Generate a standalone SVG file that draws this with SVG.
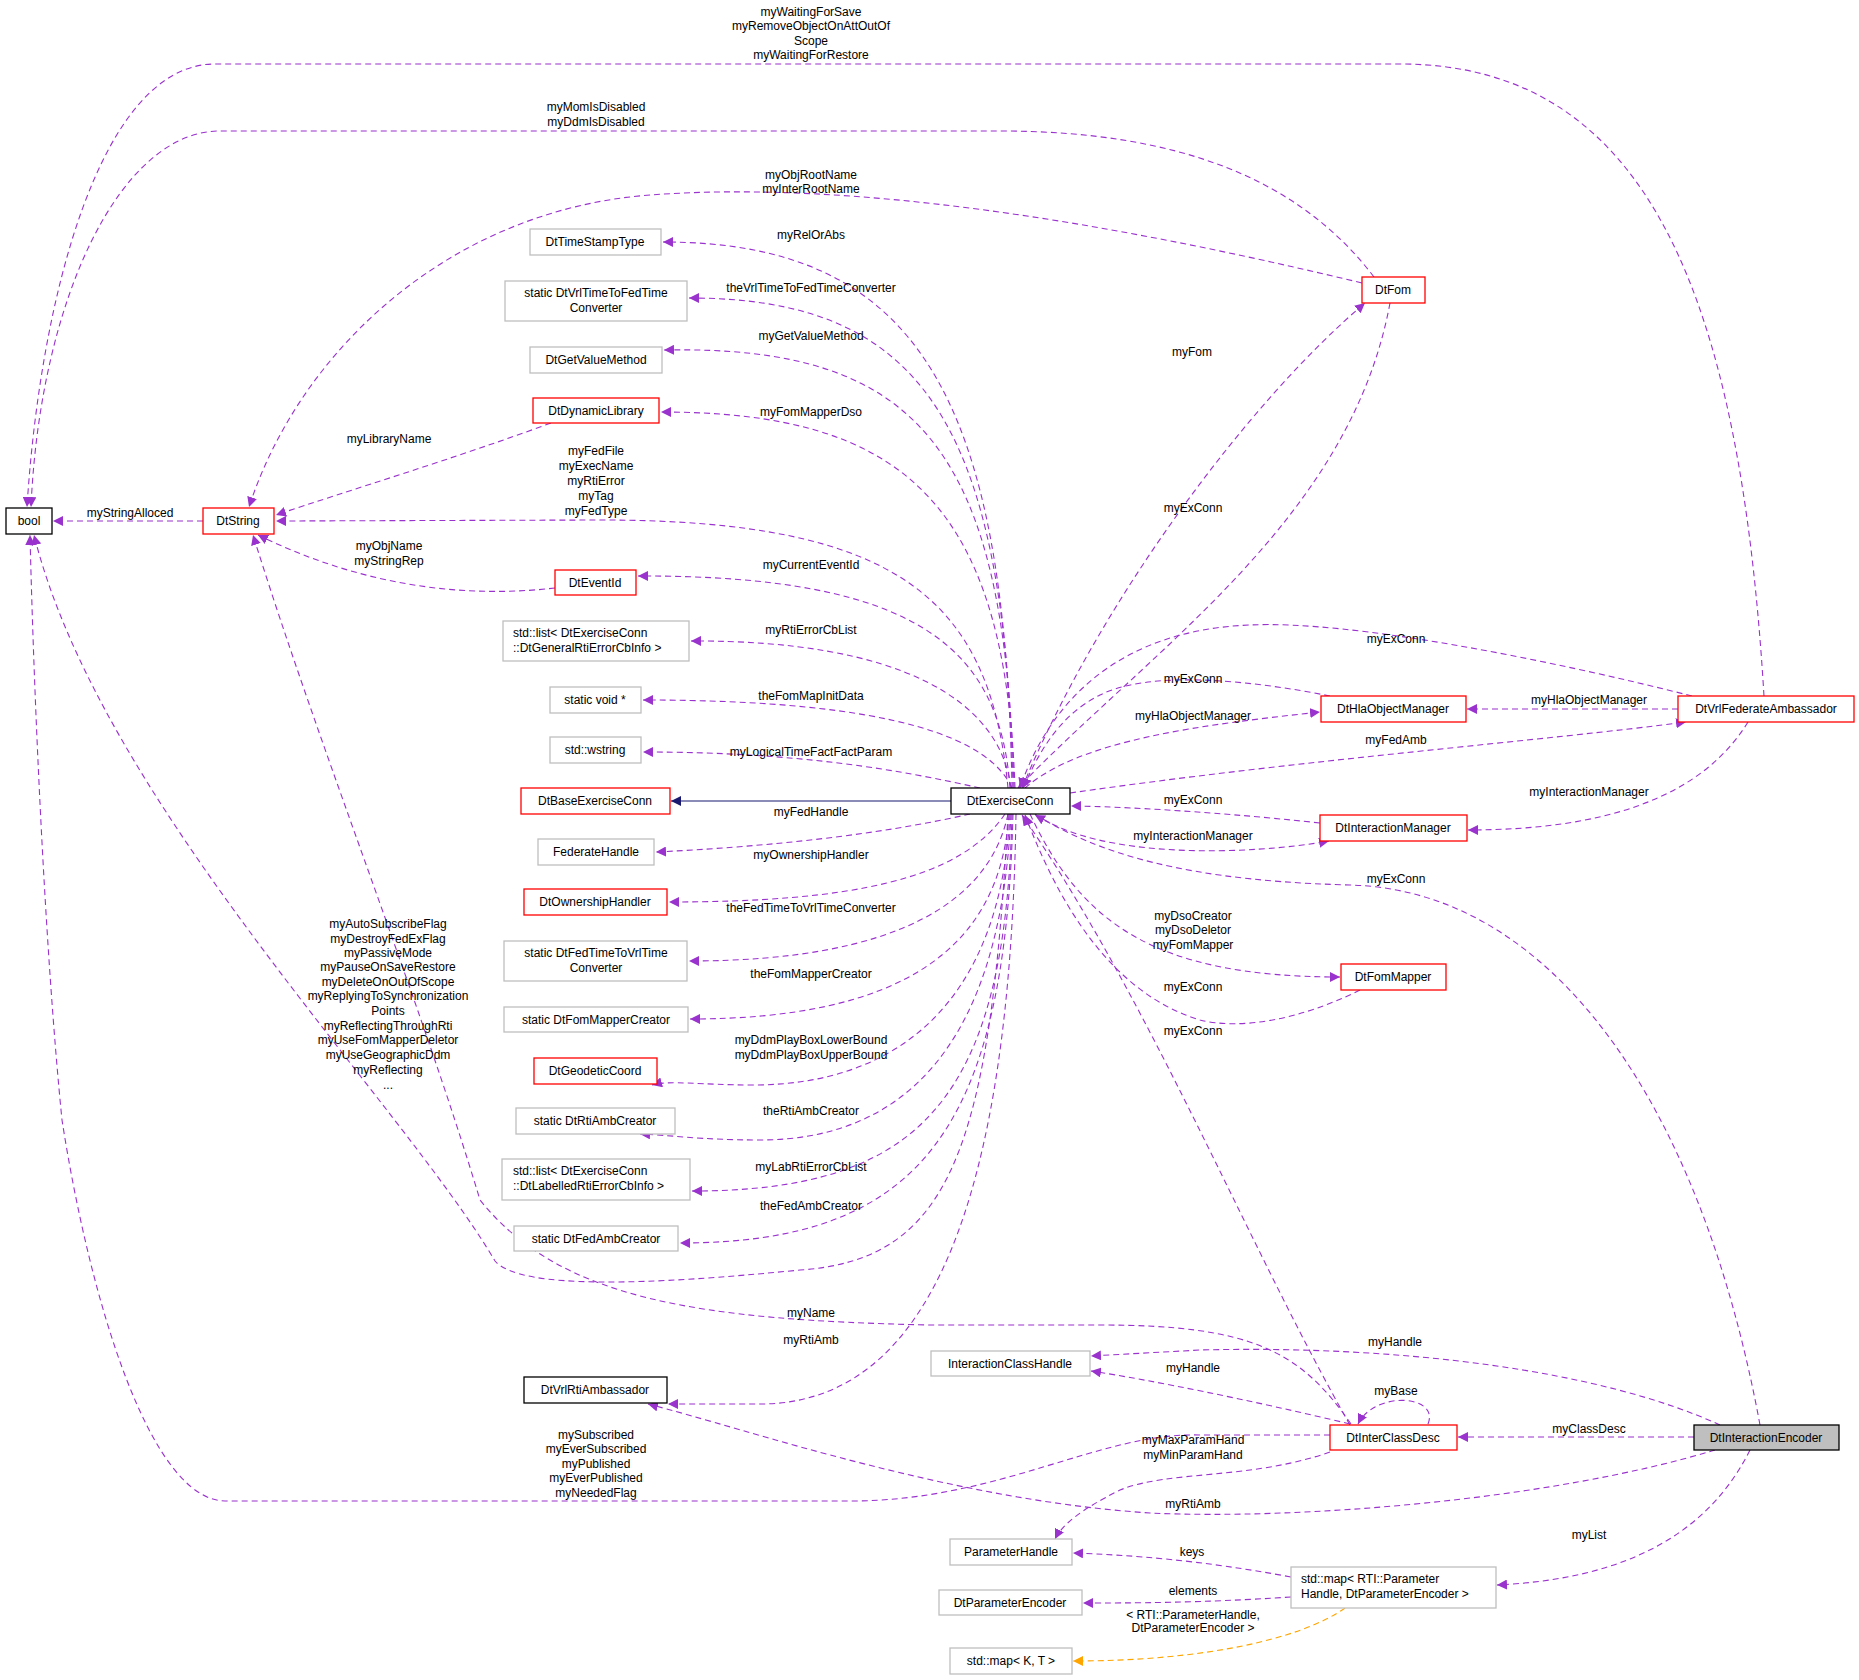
<svg xmlns="http://www.w3.org/2000/svg" width="1859" height="1680" viewBox="0 0 1859 1680">
<style>
text{font-family:"Liberation Sans",Arial,sans-serif;font-size:12px;fill:#000;text-anchor:middle}
.n rect{fill:#fff;stroke-width:1.3}
.k rect{stroke:#000}
.r rect{stroke:#ff0000}
.g rect{stroke:#bfbfbf}
#connectors path{fill:none;stroke:#9a32cd;stroke-dasharray:6,4;stroke-width:1.1}
#connectors path.e{marker-end:url(#ap)}
#connectors path.o{stroke:#ffa500;marker-end:url(#ao)}
#connectors path.s{stroke:#191970;stroke-dasharray:none;marker-end:url(#an)}
</style>
<defs>
<marker id="ap" viewBox="0 0 10 10" refX="10" refY="5" markerWidth="10" markerHeight="10" markerUnits="userSpaceOnUse" orient="auto"><path d="M0,0 L10,5 L0,10 z" fill="#9a32cd"/></marker>
<marker id="ao" viewBox="0 0 10 10" refX="10" refY="5" markerWidth="10" markerHeight="10" markerUnits="userSpaceOnUse" orient="auto"><path d="M0,0 L10,5 L0,10 z" fill="#ffa500"/></marker>
<marker id="an" viewBox="0 0 10 10" refX="10" refY="5" markerWidth="10" markerHeight="10" markerUnits="userSpaceOnUse" orient="auto"><path d="M0,0 L10,5 L0,10 z" fill="#191970"/></marker>
</defs>
<rect width="1859" height="1680" fill="#fff"/>
<g id="connectors">
<path class="e" d="M1764,696 C1740,300 1650,64 1400,64 L215,64 C100,64 40,300 27,507"/>
<path class="e" d="M1374,277 C1300,180 1180,131 1000,131 L220,131 C120,131 40,300 31,507"/>
<path class="e" d="M1362,283 C1100,220 850,180 650,195 C450,210 300,350 249,507"/>
<path class="e" d="M1012,788 C1005,400 920,242 663,242"/>
<path class="e" d="M1013,788 C1005,420 920,298 689,298"/>
<path class="e" d="M1014,788 C1005,450 920,345 664,350"/>
<path class="e" d="M1015,788 C1005,500 900,412 661,412"/>
<path class="e" d="M1008,788 C990,600 900,520 600,520 L276,521"/>
<path class="e" d="M1010,788 C1000,650 920,575 638,576"/>
<path class="e" d="M1011,788 C1000,700 900,640 691,641"/>
<path class="e" d="M1012,788 C990,740 900,700 643,700"/>
<path class="e" d="M980,788 C900,770 800,752 643,752"/>
<path class="s" d="M951,801 L671,801"/>
<path class="e" d="M970,814 C900,830 800,845 656,852"/>
<path class="e" d="M1005,814 C960,880 850,902 669,902"/>
<path class="e" d="M1008,814 C990,900 900,961 689,961"/>
<path class="e" d="M1009,814 C1000,950 900,1019 690,1019"/>
<path class="e" d="M1010,814 C1000,1000 900,1085 753,1085 C700,1085 670,1080 652,1085"/>
<path class="e" d="M1011,814 C1000,1050 900,1140 760,1140 C700,1140 670,1135 640,1134"/>
<path class="e" d="M1012,814 C1005,1100 920,1191 692,1191"/>
<path class="e" d="M1013,814 C1005,1130 920,1243 680,1243"/>
<path class="e" d="M1008,814 C990,1150 950,1260 800,1270 C650,1285 520,1290 495,1261 C400,1100 100,800 34,535"/>
<path class="e" d="M1016,814 C1010,1200 930,1404 760,1404 L668,1404"/>
<path class="e" d="M1022,788 C1100,600 1250,400 1365,303"/>
<path class="e" d="M1390,303 C1350,520 1150,650 1018,788"/>
<path class="e" d="M1692,696 C1550,660 1350,620 1250,625 C1120,630 1050,700 1020,788"/>
<path class="e" d="M1330,696 C1250,680 1150,670 1100,695 C1060,715 1040,750 1023,788"/>
<path class="e" d="M1025,788 C1080,740 1200,725 1320,712"/>
<path class="e" d="M1678,709 L1467,709"/>
<path class="e" d="M1070,793 C1300,760 1550,740 1686,722"/>
<path class="e" d="M1748,722 C1700,800 1600,830 1468,830"/>
<path class="e" d="M1320,823 C1200,810 1100,806 1071,806"/>
<path class="e" d="M1035,814 C1100,860 1250,855 1329,841"/>
<path class="e" d="M1760,1425 C1700,1100 1550,890 1350,885 C1150,880 1080,840 1035,815"/>
<path class="e" d="M1030,814 C1080,920 1150,977 1340,977"/>
<path class="e" d="M1360,990 C1300,1020 1240,1030 1200,1020 C1100,990 1050,880 1025,815"/>
<path class="e" d="M1350,1425 C1250,1250 1150,1000 1022,815"/>
<path class="e" d="M1720,1425 C1600,1370 1400,1345 1200,1350 L1091,1356"/>
<path class="e" d="M1350,1424 C1250,1400 1150,1380 1091,1371"/>
<path class="e" d="M1428,1424 C1440,1395 1375,1390 1358,1424"/>
<path class="e" d="M1694,1437 L1458,1437"/>
<path class="e" d="M1330,1435 L1200,1435 C1100,1432 1000,1501 850,1501 L225,1501 C150,1500 90,1300 62,1120 C45,950 34,700 30,535"/>
<path class="e" d="M1330,1452 C1250,1480 1170,1470 1120,1490 C1080,1510 1062,1525 1055,1539"/>
<path class="e" d="M1715,1450 C1550,1500 1300,1520 1150,1513 C950,1500 750,1430 648,1404"/>
<path class="e" d="M1750,1450 C1700,1550 1600,1580 1497,1585"/>
<path class="e" d="M1291,1577 C1200,1560 1130,1555 1073,1553"/>
<path class="e" d="M1291,1597 C1200,1603 1130,1603 1083,1603"/>
<path class="o" d="M1345,1608 C1300,1640 1200,1661 1073,1661"/>
<path class="e" d="M551,423 C450,460 350,490 276,515"/>
<path class="e" d="M555,588 C450,600 350,580 258,535"/>
<path class="e" d="M203,521 L53,521"/>
<path class="e" d="M1351,1424 C1300,1350 1250,1325 1100,1325 L930,1325 C700,1320 560,1300 480,1200 C420,1000 320,750 253,535"/>
</g>
<g id="labels">
<text x="811" y="16">myWaitingForSave</text><text x="811" y="30">myRemoveObjectOnAttOutOf</text><text x="811" y="45">Scope</text><text x="811" y="59">myWaitingForRestore</text>
<text x="596" y="111">myMomIsDisabled</text><text x="596" y="126">myDdmIsDisabled</text>
<text x="811" y="179">myObjRootName</text><text x="811" y="193">myInterRootName</text>
<text x="811" y="239">myRelOrAbs</text>
<text x="811" y="292">theVrlTimeToFedTimeConverter</text>
<text x="811" y="340">myGetValueMethod</text>
<text x="811" y="416">myFomMapperDso</text>
<text x="389" y="443">myLibraryName</text>
<text x="596" y="455">myFedFile</text><text x="596" y="470">myExecName</text><text x="596" y="485">myRtiError</text><text x="596" y="500">myTag</text><text x="596" y="515">myFedType</text>
<text x="130" y="517">myStringAlloced</text>
<text x="389" y="550">myObjName</text><text x="389" y="565">myStringRep</text>
<text x="811" y="569">myCurrentEventId</text>
<text x="811" y="634">myRtiErrorCbList</text>
<text x="811" y="700">theFomMapInitData</text>
<text x="811" y="756">myLogicalTimeFactFactParam</text>
<text x="811" y="816">myFedHandle</text>
<text x="811" y="859">myOwnershipHandler</text>
<text x="811" y="912">theFedTimeToVrlTimeConverter</text>
<text x="811" y="978">theFomMapperCreator</text>
<text x="811" y="1044">myDdmPlayBoxLowerBound</text><text x="811" y="1059">myDdmPlayBoxUpperBound</text>
<text x="811" y="1115">theRtiAmbCreator</text>
<text x="811" y="1171">myLabRtiErrorCbList</text>
<text x="811" y="1210">theFedAmbCreator</text>
<text x="811" y="1317">myName</text>
<text x="811" y="1344">myRtiAmb</text>
<text x="388" y="928">myAutoSubscribeFlag</text><text x="388" y="943">myDestroyFedExFlag</text><text x="388" y="957">myPassiveMode</text><text x="388" y="971">myPauseOnSaveRestore</text><text x="388" y="986">myDeleteOnOutOfScope</text><text x="388" y="1000">myReplyingToSynchronization</text><text x="388" y="1015">Points</text><text x="388" y="1030">myReflectingThroughRti</text><text x="388" y="1044">myUseFomMapperDeletor</text><text x="388" y="1059">myUseGeographicDdm</text><text x="388" y="1074">myReflecting</text><text x="388" y="1089">...</text>
<text x="596" y="1439">mySubscribed</text><text x="596" y="1453">myEverSubscribed</text><text x="596" y="1468">myPublished</text><text x="596" y="1482">myEverPublished</text><text x="596" y="1497">myNeededFlag</text>
<text x="1192" y="356">myFom</text>
<text x="1193" y="512">myExConn</text>
<text x="1396" y="643">myExConn</text>
<text x="1193" y="683">myExConn</text>
<text x="1193" y="720">myHlaObjectManager</text>
<text x="1589" y="704">myHlaObjectManager</text>
<text x="1396" y="744">myFedAmb</text>
<text x="1589" y="796">myInteractionManager</text>
<text x="1193" y="804">myExConn</text>
<text x="1193" y="840">myInteractionManager</text>
<text x="1396" y="883">myExConn</text>
<text x="1193" y="920">myDsoCreator</text><text x="1193" y="934">myDsoDeletor</text><text x="1193" y="949">myFomMapper</text>
<text x="1193" y="991">myExConn</text>
<text x="1193" y="1035">myExConn</text>
<text x="1395" y="1346">myHandle</text>
<text x="1193" y="1372">myHandle</text>
<text x="1396" y="1395">myBase</text>
<text x="1589" y="1433">myClassDesc</text>
<text x="1193" y="1444">myMaxParamHand</text><text x="1193" y="1459">myMinParamHand</text>
<text x="1193" y="1508">myRtiAmb</text>
<text x="1589" y="1539">myList</text>
<text x="1192" y="1556">keys</text>
<text x="1193" y="1595">elements</text>
<text x="1193" y="1619">&lt; RTI::ParameterHandle,</text><text x="1193" y="1632">DtParameterEncoder &gt;</text>
</g>
<g id="bool" class="n k"><rect x="6" y="508" width="46" height="26"/><text x="29" y="525">bool</text></g>
<g id="DtString" class="n r"><rect x="203" y="508" width="71" height="26"/><text x="238" y="525">DtString</text></g>
<g id="DtTimeStampType" class="n g"><rect x="530" y="229" width="131" height="26"/><text x="595" y="246">DtTimeStampType</text></g>
<g id="DtVrlTimeToFedTimeConverter" class="n g"><rect x="505" y="281" width="182" height="40"/><text x="596" y="297">static DtVrlTimeToFedTime</text><text x="596" y="312">Converter</text></g>
<g id="DtGetValueMethod" class="n g"><rect x="530" y="347" width="132" height="26"/><text x="596" y="364">DtGetValueMethod</text></g>
<g id="DtDynamicLibrary" class="n r"><rect x="533" y="398" width="126" height="25"/><text x="596" y="415">DtDynamicLibrary</text></g>
<g id="DtEventId" class="n r"><rect x="555" y="570" width="81" height="25"/><text x="595" y="587">DtEventId</text></g>
<g id="GeneralList" class="n g"><rect x="503" y="621" width="186" height="40"/><text x="513" y="637" style="text-anchor:start">std::list&lt; DtExerciseConn</text><text x="513" y="652" style="text-anchor:start">::DtGeneralRtiErrorCbInfo &gt;</text></g>
<g id="staticvoid" class="n g"><rect x="550" y="687" width="91" height="26"/><text x="595" y="704">static void *</text></g>
<g id="wstring" class="n g"><rect x="550" y="737" width="91" height="26"/><text x="595" y="754">std::wstring</text></g>
<g id="DtBaseExerciseConn" class="n r"><rect x="521" y="788" width="149" height="26"/><text x="595" y="805">DtBaseExerciseConn</text></g>
<g id="FederateHandle" class="n g"><rect x="538" y="839" width="116" height="26"/><text x="596" y="856">FederateHandle</text></g>
<g id="DtOwnershipHandler" class="n r"><rect x="524" y="889" width="143" height="26"/><text x="595" y="906">DtOwnershipHandler</text></g>
<g id="DtFedTimeToVrlTimeConverter" class="n g"><rect x="504" y="941" width="183" height="40"/><text x="596" y="957">static DtFedTimeToVrlTime</text><text x="596" y="972">Converter</text></g>
<g id="DtFomMapperCreator" class="n g"><rect x="504" y="1007" width="184" height="25"/><text x="596" y="1024">static DtFomMapperCreator</text></g>
<g id="DtGeodeticCoord" class="n r"><rect x="534" y="1058" width="123" height="26"/><text x="595" y="1075">DtGeodeticCoord</text></g>
<g id="DtRtiAmbCreator" class="n g"><rect x="516" y="1108" width="159" height="26"/><text x="595" y="1125">static DtRtiAmbCreator</text></g>
<g id="LabelledList" class="n g"><rect x="502" y="1159" width="188" height="41"/><text x="513" y="1175" style="text-anchor:start">std::list&lt; DtExerciseConn</text><text x="513" y="1190" style="text-anchor:start">::DtLabelledRtiErrorCbInfo &gt;</text></g>
<g id="DtFedAmbCreator" class="n g"><rect x="514" y="1226" width="164" height="25"/><text x="596" y="1243">static DtFedAmbCreator</text></g>
<g id="DtVrlRtiAmbassador" class="n k"><rect x="524" y="1377" width="143" height="26"/><text x="595" y="1394">DtVrlRtiAmbassador</text></g>
<g id="DtExerciseConn" class="n k"><rect x="951" y="788" width="119" height="26"/><text x="1010" y="805">DtExerciseConn</text></g>
<g id="DtFom" class="n r"><rect x="1362" y="277" width="63" height="26"/><text x="1393" y="294">DtFom</text></g>
<g id="DtHlaObjectManager" class="n r"><rect x="1321" y="696" width="145" height="26"/><text x="1393" y="713">DtHlaObjectManager</text></g>
<g id="DtVrlFederateAmbassador" class="n r"><rect x="1678" y="696" width="176" height="26"/><text x="1766" y="713">DtVrlFederateAmbassador</text></g>
<g id="DtInteractionManager" class="n r"><rect x="1320" y="815" width="147" height="26"/><text x="1393" y="832">DtInteractionManager</text></g>
<g id="DtFomMapper" class="n r"><rect x="1341" y="964" width="105" height="26"/><text x="1393" y="981">DtFomMapper</text></g>
<g id="InteractionClassHandle" class="n g"><rect x="931" y="1351" width="159" height="25"/><text x="1010" y="1368">InteractionClassHandle</text></g>
<g id="DtInterClassDesc" class="n r"><rect x="1330" y="1425" width="127" height="25"/><text x="1393" y="1442">DtInterClassDesc</text></g>
<g id="DtInteractionEncoder" class="n"><rect x="1694" y="1425" width="145" height="25" style="fill:#bfbfbf;stroke:#000"/><text x="1766" y="1442">DtInteractionEncoder</text></g>
<g id="ParameterHandle" class="n g"><rect x="950" y="1539" width="122" height="26"/><text x="1011" y="1556">ParameterHandle</text></g>
<g id="ParamMap" class="n g"><rect x="1291" y="1567" width="205" height="41"/><text x="1301" y="1583" style="text-anchor:start">std::map&lt; RTI::Parameter</text><text x="1301" y="1598" style="text-anchor:start">Handle, DtParameterEncoder &gt;</text></g>
<g id="DtParameterEncoder" class="n g"><rect x="939" y="1590" width="143" height="25"/><text x="1010" y="1607">DtParameterEncoder</text></g>
<g id="MapKT" class="n g"><rect x="950" y="1648" width="122" height="26"/><text x="1011" y="1665">std::map&lt; K, T &gt;</text></g>
</svg>
